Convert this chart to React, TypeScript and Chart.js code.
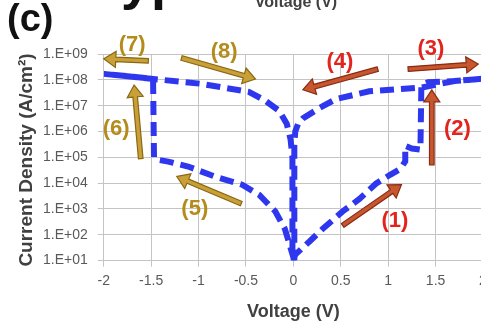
import { useEffect, useRef } from "react";
import { Chart, registerables } from "chart.js";

Chart.register(...registerables);

// Positive sweep: (1) 0 -> 1.35 V low state, (2) set jump, (3) to 2 V, (4) back to 0 V
const posVoltage = [0, 0.02, 0.17, 0.31, 0.52, 0.7, 0.87, 1.02, 1.13, 1.18, 1.18, 1.25, 1.34, 1.35, 1.42, 1.7, 2.0, 1.7, 1.35, 0.8, 0.45, 0.28, 0.1, 0.05, 0.02, 0.01, 0.01];
const posCurrent = [1.0e1, 1.7e1, 5.5e1, 1.7e2, 8.0e2, 2.5e3, 9.5e3, 2.1e4, 3.6e4, 7.0e4, 2.8e5, 2.2e5, 2.0e5, 6.0e7, 8.0e7, 9.0e7, 1.1e8, 9.0e7, 5.0e7, 3.6e7, 1.8e7, 8.3e6, 3.2e6, 2.0e6, 1.0e6, 3.0e5, 1.0e1];

// Negative sweep: (5) 0 -> -1.47 V, (6) jump, (7) to -2 V, (8) back to 0 V
const negVoltage = [0.01, -0.09, -0.19, -0.36, -0.54, -0.83, -1.11, -1.32, -1.43, -1.47, -1.48, -1.75, -2.0, -1.5, -0.97, -0.47, -0.3, -0.15, -0.07, -0.03, -0.01, -0.01];
const negCurrent = [1.0e1, 1.7e2, 8.0e2, 3.5e3, 8.7e3, 1.8e4, 4.4e4, 6.8e4, 8.0e4, 1.0e5, 1.1e8, 1.4e8, 1.7e8, 1.1e8, 7.0e7, 3.4e7, 1.6e7, 6.3e6, 2.0e6, 5.0e5, 1.0e5, 1.0e1];

const yTickValues = [1e1, 1e2, 1e3, 1e4, 1e5, 1e6, 1e7, 1e8, 1e9];

// Sweep-direction arrows (tail -> head) and their labels
const arrowLabels = ["(1)", "(2)", "(3)", "(4)", "(5)", "(6)", "(7)", "(8)"];
const arrowTailV = [0.52, 1.46, 1.21, 0.89, -0.55, -1.61, -1.53, -1.18];
const arrowTailJ = [2.3e2, 5.1e4, 2.6e8, 2.6e8, 1.6e3, 8.9e4, 5.4e8, 7.0e8];
const arrowHeadV = [1.14, 1.46, 1.95, 0.1, -1.23, -1.68, -2.0, -0.4];
const arrowHeadJ = [8.7e3, 4.1e7, 4.1e8, 4.1e7, 1.8e4, 6.3e7, 6.5e8, 1.07e8];
const labelV = [1.07, 1.73, 1.45, 0.49, -1.04, -1.87, -1.7, -0.73];
const labelJ = [3.3e2, 1.26e6, 1.55e9, 5.0e8, 1.0e3, 1.2e6, 2.2e9, 1.2e9];
const arrowGroup = ["set", "set", "set", "set", "reset", "reset", "reset", "reset"];

const FONT = "'Liberation Sans', Arial, sans-serif";

function drawArrow(ctx: CanvasRenderingContext2D, x1: number, y1: number, x2: number, y2: number, fill: string, stroke: string) {
  const dx = x2 - x1;
  const dy = y2 - y1;
  const len = Math.hypot(dx, dy);
  const ux = dx / len;
  const uy = dy / len;
  const nx = -uy;
  const ny = ux;
  const sw = 2.3;
  const hw = 8;
  const hl = 12;
  const bx = x2 - ux * hl;
  const by = y2 - uy * hl;
  ctx.beginPath();
  ctx.moveTo(x1 + nx * sw, y1 + ny * sw);
  ctx.lineTo(bx + nx * sw, by + ny * sw);
  ctx.lineTo(bx + nx * hw, by + ny * hw);
  ctx.lineTo(x2, y2);
  ctx.lineTo(bx - nx * hw, by - ny * hw);
  ctx.lineTo(bx - nx * sw, by - ny * sw);
  ctx.lineTo(x1 - nx * sw, y1 - ny * sw);
  ctx.closePath();
  ctx.fillStyle = fill;
  ctx.fill();
  ctx.lineWidth = 1.2;
  ctx.strokeStyle = stroke;
  ctx.stroke();
}

const annotPlugin = {
  id: "annot",
  afterDraw(chart: any) {
    const { ctx } = chart;
    const xs = chart.scales.x;
    const ys = chart.scales.y;
    ctx.save();
    for (let i = 0; i < arrowLabels.length; i++) {
      const isSet = arrowGroup[i] === "set";
      drawArrow(
        ctx,
        xs.getPixelForValue(arrowTailV[i]),
        ys.getPixelForValue(arrowTailJ[i]),
        xs.getPixelForValue(arrowHeadV[i]),
        ys.getPixelForValue(arrowHeadJ[i]),
        isSet ? "#c8562f" : "#c9a038",
        isSet ? "#8a2c12" : "#8a6812"
      );
      ctx.font = `bold 22px ${FONT}`;
      ctx.textAlign = "center";
      ctx.textBaseline = "middle";
      ctx.fillStyle = isSet ? "#e3231d" : "#b48c1c";
      ctx.fillText(arrowLabels[i], xs.getPixelForValue(labelV[i]), ys.getPixelForValue(labelJ[i]));
    }
    // y axis title
    ctx.save();
    ctx.translate(27, 160);
    ctx.rotate(-Math.PI / 2);
    ctx.font = `bold 19px ${FONT}`;
    ctx.fillStyle = "#404040";
    ctx.textAlign = "center";
    ctx.textBaseline = "middle";
    ctx.fillText("Current Density (A/cm²)", 0, 0);
    ctx.restore();
    // cropped top texts
    ctx.fillStyle = "#111";
    ctx.textAlign = "left";
    ctx.textBaseline = "alphabetic";
    ctx.font = `bold 38px ${FONT}`;
    ctx.fillText("(c)", 7, 31);
    ctx.font = `bold 54px ${FONT}`;
    ctx.fillText("yp", 121, -1);
    ctx.font = `bold 16px ${FONT}`;
    ctx.fillStyle = "#404040";
    ctx.textAlign = "center";
    ctx.fillText("Voltage (V)", 296, 7);
    ctx.restore();
  },
};

export default function App() {
  const ref = useRef<HTMLCanvasElement>(null);
  useEffect(() => {
    if (!ref.current) return;
    const lineStyle = {
      borderColor: "#2f37ee",
      borderWidth: 6,
      borderDash: [14, 7],
      pointRadius: 0,
      tension: 0,
      fill: false,
    };
    const chart = new Chart(ref.current, {
      type: "line",
      data: {
        datasets: [
          { label: "positive sweep", data: posVoltage.map((v, i) => ({ x: v, y: posCurrent[i] })), ...lineStyle },
          { label: "negative sweep", data: negVoltage.map((v, i) => ({ x: v, y: negCurrent[i] })), ...lineStyle },
        ],
      },
      options: {
        animation: false,
        responsive: false,
        devicePixelRatio: 1,
        layout: { padding: { left: 33, top: 54, right: 13, bottom: 1 } },
        plugins: { legend: { display: false }, tooltip: { enabled: false } },
        scales: {
          x: {
            type: "linear",
            min: -2,
            max: 2,
            ticks: {
              stepSize: 0.5,
              color: "#595959",
              font: { size: 14, family: FONT },
              padding: 6,
              callback: (v: any) => String(Number(v)),
            },
            grid: { color: "#c4c4c4", tickLength: 6, lineWidth: 1 },
            border: { color: "#c4c4c4" },
            title: { display: true, text: "Voltage (V)", color: "#404040", font: { size: 18, weight: "bold", family: FONT }, padding: { top: 6, bottom: 0 } },
          },
          y: {
            type: "logarithmic",
            min: 1e1,
            max: 1e9,
            afterBuildTicks: (axis: any) => {
              axis.ticks = yTickValues.map((v) => ({ value: v }));
            },
            ticks: {
              color: "#595959",
              font: { size: 14, family: FONT },
              padding: 10,
              callback: (v: any) => "1.E+" + String(Math.round(Math.log10(Number(v)))).padStart(2, "0"),
            },
            grid: { color: "#c4c4c4", tickLength: 6, lineWidth: 1 },
            border: { color: "#c4c4c4" },
          },
        },
      },
      plugins: [annotPlugin],
    } as any);
    return () => chart.destroy();
  }, []);
  return (
    <div style={{ position: "fixed", left: 0, top: 0, width: 481, height: 324, overflow: "hidden", background: "#fff" }}>
      <canvas ref={ref} width={496} height={324} style={{ display: "block" }} />
    </div>
  );
}
